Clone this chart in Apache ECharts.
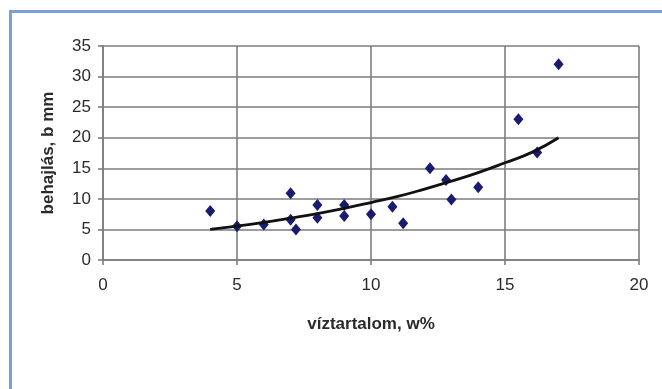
<!DOCTYPE html>
<html>
<head>
<meta charset="utf-8">
<script src="https://cdn.jsdelivr.net/npm/echarts@6/dist/echarts.min.js"></script>
<style>
  html, body { margin: 0; padding: 0; background: #fff; }
  #chart { width: 662px; height: 389px; }
</style>
</head>
<body>
<div id="chart"></div>
<script>
// Measured deflection vs. water content
var waterContent = [4, 5, 6, 7, 7, 7.2, 8, 8, 9, 9, 10, 10.8, 11.2, 12.2, 12.8, 13, 14, 15.5, 16.2, 17];
var deflection   = [8, 5.5, 5.8, 10.9, 6.6, 5, 9, 6.9, 9, 7.2, 7.5, 8.7, 6, 15, 13.1, 9.9, 11.9, 23, 17.6, 32];

// Exponential trend curve, sampled points
var trendX = [4, 5, 6, 7, 8, 9, 10, 11, 12, 13, 14, 15, 16, 17];
var trendY = [5.0, 5.55, 6.15, 6.85, 7.6, 8.45, 9.4, 10.4, 11.6, 12.9, 14.3, 15.9, 17.6, 20.0];

// Axis ticks
var xTicks = [0, 5, 10, 15, 20];
var yTicks = [0, 5, 10, 15, 20, 25, 30, 35];

var points = waterContent.map(function (x, i) { return [x, deflection[i]]; });
var trend = trendX.map(function (x, i) { return [x, trendY[i]]; });

var chart = echarts.init(document.getElementById('chart'), null, { renderer: 'canvas' });
var gridColor = '#7d7d7d';
var labelFont = { fontFamily: 'Liberation Sans, Arial, sans-serif', fontSize: 17, color: '#2a2a2a' };

chart.setOption({
  animation: false,
  backgroundColor: '#fff',
  graphic: [{
    type: 'rect',
    shape: { x: 10.5, y: 11.5, width: 700, height: 420 },
    style: { fill: 'none', stroke: '#7aa0dc', lineWidth: 3 },
    silent: true
  }],
  grid: { left: 103, top: 46, width: 536, height: 214 },
  xAxis: {
    type: 'value',
    min: xTicks[0], max: xTicks[xTicks.length - 1], interval: 5,
    name: 'víztartalom, w%',
    nameLocation: 'middle',
    nameGap: 56,
    nameTextStyle: { fontFamily: 'Liberation Sans, Arial, sans-serif', fontSize: 17, fontWeight: 'bold', color: '#2a2a2a' },
    axisLine: { lineStyle: { color: gridColor, width: 1.6 } },
    axisTick: { show: true, length: 5, lineStyle: { color: gridColor, width: 1.6 } },
    axisLabel: Object.assign({ margin: 17 }, labelFont),
    splitLine: { show: true, lineStyle: { color: gridColor, width: 1.6 } }
  },
  yAxis: {
    type: 'value',
    min: yTicks[0], max: yTicks[yTicks.length - 1], interval: 5,
    name: 'behajlás, b mm',
    nameLocation: 'middle',
    nameGap: 46,
    nameTextStyle: { fontFamily: 'Liberation Sans, Arial, sans-serif', fontSize: 17, fontWeight: 'bold', color: '#2a2a2a' },
    axisLine: { show: true, lineStyle: { color: gridColor, width: 1.6 } },
    axisTick: { show: true, length: 5, lineStyle: { color: gridColor, width: 1.6 } },
    axisLabel: Object.assign({ margin: 12 }, labelFont),
    splitLine: { show: true, lineStyle: { color: gridColor, width: 1.6 } }
  },
  series: [
    {
      type: 'scatter',
      data: points,
      symbol: 'diamond',
      symbolSize: [10, 12],
      itemStyle: { color: '#1a1a6e', opacity: 1 },
      z: 3
    },
    {
      type: 'line',
      data: trend,
      smooth: true,
      symbol: 'none',
      lineStyle: { color: '#111', width: 2.8 },
      z: 4
    }
  ]
});
</script>
</body>
</html>
